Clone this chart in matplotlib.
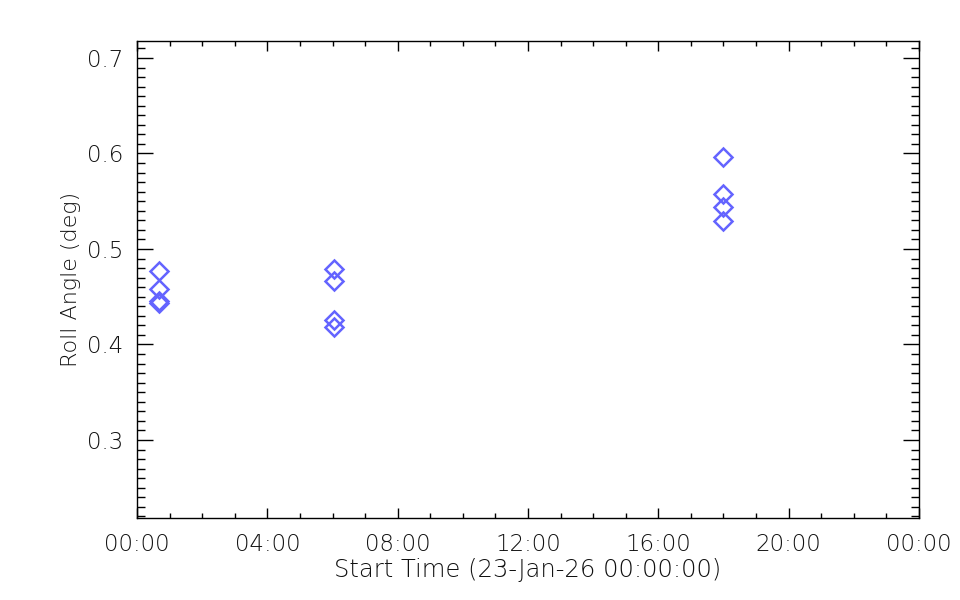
import matplotlib
matplotlib.use("Agg")
import matplotlib.pyplot as plt
from matplotlib.ticker import MultipleLocator

# data (hours since 23-Jan-26 00:00:00)
times_h = [0.67, 0.67, 0.67, 0.67, 6.05, 6.05, 6.05, 6.05, 18.0, 18.0, 18.0, 18.0]
roll_deg = [0.477, 0.458, 0.446, 0.443, 0.479, 0.467, 0.426, 0.418, 0.596, 0.558, 0.544, 0.529]
xtick_pos = [0, 4, 8, 12, 16, 20, 24]
xtick_labels = ["00:00", "04:00", "08:00", "12:00", "16:00", "20:00", "00:00"]
ytick_pos = [0.3, 0.4, 0.5, 0.6, 0.7]

plt.rcParams['font.family'] = ['DejaVu Sans']
plt.rcParams['font.weight'] = 200
plt.rcParams['axes.labelweight'] = 200
fig = plt.figure(figsize=(9.6, 6.0), dpi=100)
ax = fig.add_axes([137/960, 82/600, 782/960, 477/600])

ax.plot(times_h, roll_deg, linestyle='none', marker='D', markersize=9.5,
        markerfacecolor='none', markeredgecolor='#6464ff', markeredgewidth=1.8)

ax.set_xlim(0, 24)
ax.set_ylim(0.2183, 0.7178)
ax.set_xticks(xtick_pos)
ax.set_xticklabels(xtick_labels)
ax.set_yticks(ytick_pos)
ax.set_yticklabels([f"{v:.1f}" for v in ytick_pos])
ax.xaxis.set_minor_locator(MultipleLocator(1))
ax.yaxis.set_minor_locator(MultipleLocator(0.01))

ax.tick_params(which='both', direction='in', top=True, right=True, color='black', width=1)
ax.tick_params(axis='x', which='major', length=7, pad=11)
ax.tick_params(axis='x', which='minor', length=3.5)
ax.tick_params(axis='y', which='major', length=11.5, pad=10)
ax.tick_params(axis='y', which='minor', length=5.8)
ax.tick_params(labelsize=16.5, labelcolor='#111111')
for s in ax.spines.values():
    s.set_linewidth(1)
    s.set_color('black')

ax.set_xlabel("Start Time (23-Jan-26 00:00:00)", fontsize=17.5, color='#111111', labelpad=1)
ax.set_ylabel("Roll Angle (deg)", fontsize=16, color='#111111', labelpad=4)

fig.savefig("out.png", dpi=100, facecolor='white')
